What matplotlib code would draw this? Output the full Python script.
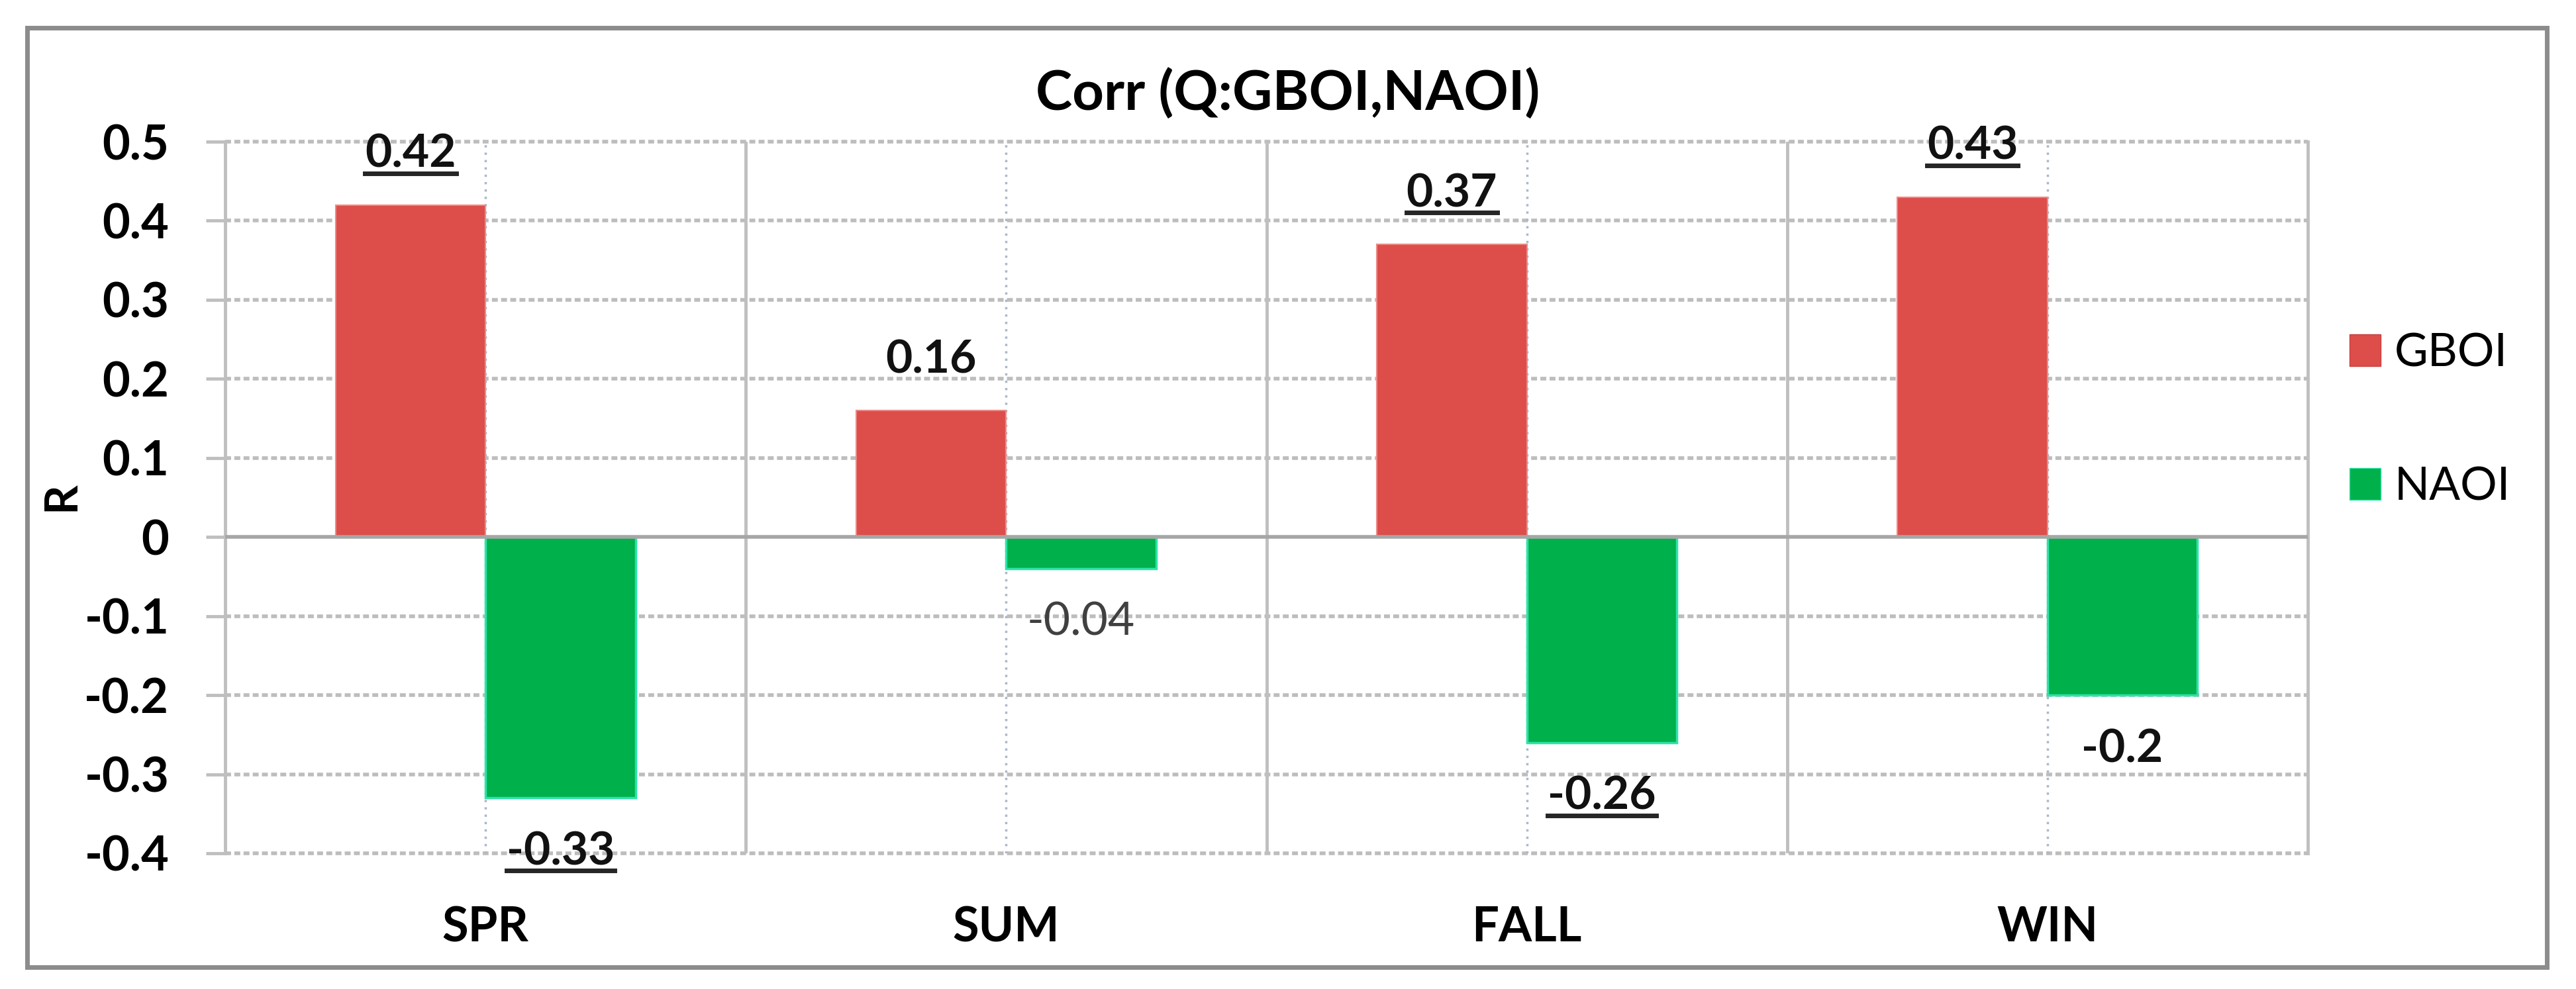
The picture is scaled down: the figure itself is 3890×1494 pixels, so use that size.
import matplotlib
matplotlib.use('Agg')
import matplotlib.pyplot as plt
from matplotlib.patches import Rectangle, Patch
from matplotlib.lines import Line2D

plt.rcParams['font.family'] = ['Lato', 'DejaVu Sans']

# dados
seasons = ['SPR', 'SUM', 'FALL', 'WIN']
gboi = [0.42, 0.16, 0.37, 0.43]
naoi = [-0.33, -0.04, -0.26, -0.2]
gboi_underline = [True, False, True, True]
naoi_underline = [True, False, True, False]
yticks = [0.5, 0.4, 0.3, 0.2, 0.1, 0, -0.1, -0.2, -0.3, -0.4]
ytick_labels = ['0.5', '0.4', '0.3', '0.2', '0.1', '0', '-0.1', '-0.2', '-0.3', '-0.4']

red = '#DD4D4A'
green = '#00B04B'
W, H = 3890, 1494

fig = plt.figure(figsize=(W / 100, H / 100), dpi=100)
ax = fig.add_axes([340 / W, 1 - 1289 / H, (3485 - 340) / W, (1289 - 214) / H])

x = list(range(len(seasons)))
w = 0.288
ax.bar([i - w / 2 for i in x], gboi, w, color=red, edgecolor='#EC8A87', linewidth=1.5, zorder=3)
ax.bar([i + w / 2 for i in x], naoi, w, color=green, edgecolor='#2DE3A6', linewidth=2.5, zorder=3)

ax.set_xlim(-0.5, 3.5)
ax.set_ylim(-0.4, 0.5)

# grelha
for yv in yticks:
    if yv != 0:
        ax.axhline(yv, color='#BDBDBD', lw=4, ls=(0, (1.6, 0.9)), zorder=1, clip_on=False)
ax.axhline(0, color='#A6A6A6', lw=4, zorder=4)
for i in x:
    ax.axvline(i, color='#A9B8CC', lw=2.5, ls=(0, (1, 2.2)), zorder=1)
for b in [0.5, 1.5, 2.5]:
    ax.axvline(b, color='#BFBFBF', lw=3.5, zorder=1)

for s in ['top', 'bottom']:
    ax.spines[s].set_visible(False)
for s in ['left', 'right']:
    ax.spines[s].set_color('#BFBFBF')
    ax.spines[s].set_linewidth(3.5)

ax.set_yticks(yticks)
ax.set_yticklabels(ytick_labels, fontsize=52, fontweight='bold')
ax.tick_params(axis='y', length=21, width=3.5, color='#BFBFBF', pad=40)
ax.set_xticks(x)
ax.set_xticklabels(seasons, fontsize=52, fontweight='bold')
ax.tick_params(axis='x', length=0, pad=57)

# rotulos
labels = []
for i, v in enumerate(gboi):
    t = ax.annotate(f'{v:g}', (i - w / 2, v), xytext=(0, 41), textcoords='offset points',
                    ha='center', va='baseline', fontsize=50, fontweight='bold', color='#111111', zorder=5)
    labels.append((t, gboi_underline[i]))
for i, v in enumerate(naoi):
    small = abs(v) < 0.1
    t = ax.annotate(f'{v:g}', (i + w / 2, v), xytext=(0, -36), textcoords='offset points',
                    ha='center', va='top', fontsize=50,
                    fontweight='normal' if small else 'bold',
                    color='#404040' if small else '#111111', zorder=5)
    labels.append((t, naoi_underline[i]))

fig.text(0.5, 1 - 141 / H, 'Corr (Q:GBOI,NAOI)', ha='center', va='center', fontsize=60, fontweight='bold')
fig.text(93 / W, 1 - 750 / H, 'R', ha='center', va='center', rotation=90, fontsize=50, fontweight='bold')

fig.legend(handles=[Patch(facecolor=red, edgecolor='#C84040', label='GBOI'),
                    Patch(facecolor=green, edgecolor='#2DE3A6', label='NAOI')],
           loc='center left', bbox_to_anchor=(3548 / W, 1 - 635 / H), frameon=False,
           fontsize=50, handlelength=0.68, handleheight=0.68, handletextpad=0.3,
           labelspacing=2.0, borderpad=0, borderaxespad=0)

fig.add_artist(Rectangle((41 / W, 1 - 1461 / H), (3846 - 41) / W, (1461 - 42) / H,
                         transform=fig.transFigure, fill=False, ec='#8C8C8C', lw=5))

# sublinhado
fig.canvas.draw()
r = fig.canvas.get_renderer()
inv = fig.transFigure.inverted()
for t, u in labels:
    if not u:
        continue
    bb = t.get_window_extent(r)
    (x0, y0), (x1, _) = inv.transform([(bb.x0, bb.y0 + 3), (bb.x1, bb.y0 + 3)])
    fig.add_artist(Line2D([x0, x1], [y0, y0], transform=fig.transFigure, color='#262626', lw=5))

fig.savefig('out.png', dpi=100)
